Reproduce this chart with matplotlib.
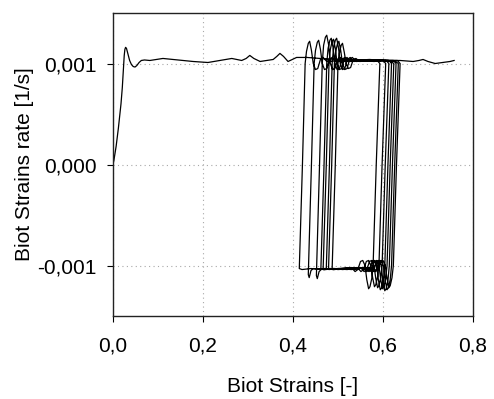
import matplotlib
matplotlib.use("Agg")
import matplotlib.pyplot as plt
from matplotlib.ticker import FuncFormatter

plt.rcParams['font.family'] = ['Liberation Sans', 'DejaVu Sans']

# Biot strain [-], strain rate [1e-3 1/s]
initial_pts = [
    (0.000, 0.00), (0.002, 0.04), (0.0045, 0.11), (0.007, 0.18), (0.0096, 0.27),
    (0.012, 0.36), (0.014, 0.44), (0.016, 0.52), (0.0178, 0.60), (0.0207, 0.76),
    (0.023, 0.93), (0.025, 1.08), (0.0265, 1.14), (0.028, 1.16), (0.030, 1.15),
    (0.033, 1.10), (0.037, 1.03), (0.041, 0.99), (0.045, 0.97), (0.049, 0.965),
    (0.053, 0.98), (0.058, 1.01), (0.063, 1.03), (0.070, 1.035), (0.082, 1.03),
    (0.111, 1.05), (0.133, 1.04), (0.156, 1.03), (0.178, 1.02), (0.211, 1.01),
    (0.238, 1.03), (0.264, 1.05), (0.286, 1.03), (0.296, 1.05), (0.304, 1.08),
    (0.313, 1.05), (0.327, 1.02), (0.356, 1.04), (0.364, 1.07), (0.371, 1.10),
    (0.379, 1.07), (0.389, 1.02), (0.408, 1.06), (0.431, 1.06), (0.460, 1.05),
    (0.500, 1.04), (0.540, 1.03), (0.575, 1.03), (0.587, 1.03), (0.593, 1.00),
]

# unloading branches (rate goes negative), one per cycle
down_pts = [
    [(0.585, 0.00), (0.578, -1.00), (0.575, -1.13), (0.571, -1.21), (0.568, -1.23),
     (0.564, -1.14), (0.560, -1.00), (0.555, -0.95), (0.550, -0.96), (0.544, -1.04),
     (0.538, -1.06), (0.530, -1.02), (0.500, -1.03), (0.470, -1.04), (0.440, -1.03),
     (0.420, -1.04), (0.414, -1.03)],
    [(0.598, 0.00), (0.591, -1.00), (0.588, -1.11), (0.584, -1.19), (0.581, -1.21),
     (0.577, -1.12), (0.573, -1.00), (0.568, -0.95), (0.563, -0.96), (0.557, -1.04),
     (0.551, -1.06), (0.543, -1.02), (0.510, -1.03), (0.470, -1.04), (0.445, -1.03),
     (0.440, -1.05), (0.436, -1.12), (0.434, -1.09)],
    [(0.605, 0.00), (0.598, -1.00), (0.595, -1.12), (0.591, -1.20), (0.588, -1.22),
     (0.584, -1.13), (0.580, -1.00), (0.575, -0.95), (0.570, -0.96), (0.564, -1.04),
     (0.558, -1.06), (0.550, -1.02), (0.520, -1.03), (0.490, -1.04), (0.465, -1.03),
     (0.458, -1.06), (0.454, -1.13), (0.452, -1.10)],
    [(0.611, 0.00), (0.604, -1.00), (0.601, -1.14), (0.597, -1.22), (0.594, -1.24),
     (0.590, -1.15), (0.586, -1.00), (0.581, -0.95), (0.576, -0.96), (0.570, -1.04),
     (0.564, -1.06), (0.556, -1.02), (0.520, -1.04), (0.490, -1.03), (0.468, -1.04),
     (0.462, -1.03)],
    [(0.616, 0.00), (0.609, -1.00), (0.606, -1.13), (0.602, -1.21), (0.599, -1.23),
     (0.595, -1.14), (0.591, -1.00), (0.586, -0.95), (0.581, -0.96), (0.575, -1.04),
     (0.569, -1.06), (0.561, -1.02), (0.520, -1.03), (0.490, -1.04), (0.473, -1.03),
     (0.467, -1.03)],
    [(0.621, 0.00), (0.614, -1.00), (0.611, -1.15), (0.607, -1.23), (0.604, -1.25),
     (0.600, -1.16), (0.596, -1.00), (0.591, -0.95), (0.586, -0.96), (0.580, -1.04),
     (0.574, -1.06), (0.566, -1.02), (0.530, -1.04), (0.500, -1.03), (0.480, -1.04),
     (0.474, -1.03)],
    [(0.626, 0.00), (0.619, -1.00), (0.616, -1.14), (0.612, -1.22), (0.609, -1.24),
     (0.605, -1.15), (0.601, -1.00), (0.596, -0.95), (0.591, -0.96), (0.585, -1.04),
     (0.579, -1.06), (0.571, -1.02), (0.530, -1.03), (0.500, -1.04), (0.485, -1.03),
     (0.479, -1.03)],
    [(0.630, 0.00), (0.623, -1.00), (0.620, -1.12), (0.616, -1.20), (0.613, -1.22),
     (0.609, -1.13), (0.605, -1.00), (0.600, -0.95), (0.595, -0.96), (0.589, -1.04),
     (0.583, -1.06), (0.575, -1.02), (0.540, -1.03), (0.510, -1.04), (0.493, -1.03),
     (0.487, -1.03)],
]

# reloading branches (rate back to positive), last one runs out to the end
up_pts = [
    [(0.421, 0.00), (0.427, 1.00), (0.430, 1.12), (0.434, 1.20), (0.437, 1.22),
     (0.441, 1.13), (0.445, 1.00), (0.450, 0.94), (0.455, 0.95), (0.461, 1.04),
     (0.467, 1.06), (0.475, 1.02), (0.510, 1.03), (0.550, 1.03), (0.580, 1.02),
     (0.600, 1.03), (0.606, 1.00)],
    [(0.441, 0.00), (0.447, 1.00), (0.450, 1.13), (0.454, 1.21), (0.457, 1.23),
     (0.461, 1.14), (0.465, 1.00), (0.470, 0.94), (0.475, 0.95), (0.481, 1.04),
     (0.487, 1.06), (0.495, 1.02), (0.530, 1.03), (0.570, 1.04), (0.600, 1.03),
     (0.607, 1.03), (0.613, 1.00)],
    [(0.459, 0.00), (0.465, 1.00), (0.468, 1.18), (0.472, 1.26), (0.475, 1.28),
     (0.479, 1.19), (0.483, 1.00), (0.488, 0.94), (0.493, 0.95), (0.499, 1.04),
     (0.505, 1.06), (0.513, 1.02), (0.550, 1.03), (0.590, 1.03), (0.613, 1.03),
     (0.619, 1.00)],
    [(0.469, 0.00), (0.475, 1.00), (0.478, 1.15), (0.482, 1.23), (0.485, 1.25),
     (0.489, 1.16), (0.493, 1.00), (0.498, 0.94), (0.503, 0.95), (0.509, 1.04),
     (0.515, 1.06), (0.523, 1.02), (0.560, 1.03), (0.600, 1.03), (0.618, 1.02),
     (0.624, 1.00)],
    [(0.474, 0.00), (0.480, 1.00), (0.483, 1.14), (0.487, 1.22), (0.490, 1.24),
     (0.494, 1.15), (0.498, 1.00), (0.503, 0.94), (0.508, 0.95), (0.514, 1.04),
     (0.520, 1.06), (0.528, 1.02), (0.570, 1.03), (0.605, 1.03), (0.623, 1.03),
     (0.629, 1.00)],
    [(0.481, 0.00), (0.487, 1.00), (0.490, 1.15), (0.494, 1.23), (0.497, 1.25),
     (0.501, 1.16), (0.505, 1.00), (0.510, 0.94), (0.515, 0.95), (0.521, 1.04),
     (0.527, 1.06), (0.535, 1.02), (0.575, 1.03), (0.610, 1.03), (0.628, 1.02),
     (0.634, 1.00)],
    [(0.486, 0.00), (0.492, 1.00), (0.495, 1.12), (0.499, 1.20), (0.502, 1.22),
     (0.506, 1.13), (0.510, 1.00), (0.515, 0.94), (0.520, 0.95), (0.526, 1.04),
     (0.532, 1.06), (0.540, 1.02), (0.580, 1.03), (0.615, 1.03), (0.632, 1.03),
     (0.638, 1.00)],
    [(0.494, 0.00), (0.500, 1.00), (0.503, 1.10), (0.507, 1.18), (0.510, 1.20),
     (0.514, 1.11), (0.518, 1.00), (0.523, 0.95), (0.528, 0.96), (0.534, 1.04),
     (0.540, 1.05), (0.548, 1.02), (0.580, 1.03), (0.610, 1.03), (0.638, 1.03),
     (0.667, 1.02), (0.680, 1.03), (0.689, 1.04), (0.700, 1.02), (0.716, 1.00),
     (0.733, 1.01), (0.749, 1.02), (0.758, 1.03)],
]

xticks = [0.0, 0.2, 0.4, 0.6, 0.8]
yticks = [-0.001, 0.0, 0.001]

# chain the branches in loading order
path = list(initial_pts)
for d, u in zip(down_pts, up_pts):
    path += d + u
strain = [p[0] for p in path]
rate = [p[1] * 1e-3 for p in path]

fig = plt.figure(figsize=(4.94, 3.99), dpi=100)
ax = fig.add_axes([0.2287, 0.208, 0.7288, 0.7594])
ax.plot(strain, rate, color='black', lw=0.9)

ax.set_xlim(0, 0.8)
ax.set_ylim(-0.0015, 0.0015)
ax.set_xticks(xticks)
ax.set_yticks(yticks)
ax.xaxis.set_major_formatter(FuncFormatter(lambda v, p: ('%.1f' % v).replace('.', ',')))
ax.yaxis.set_major_formatter(FuncFormatter(lambda v, p: ('%.3f' % v).replace('.', ',')))
ax.tick_params(direction='out', length=4, width=0.8, labelsize=15)
ax.tick_params(axis='x', pad=11)
ax.tick_params(axis='y', pad=8)
ax.grid(True, color='#a8a8a8', linestyle=(0, (1, 3)), lw=0.8)
for s in ax.spines.values():
    s.set_linewidth(1.0)
    s.set_color('#222222')

ax.set_xlabel('Biot Strains [-]', fontsize=15, labelpad=15)
ax.set_ylabel('Biot Strains rate [1/s]', fontsize=15, labelpad=2)

fig.savefig('out.png', dpi=100)
